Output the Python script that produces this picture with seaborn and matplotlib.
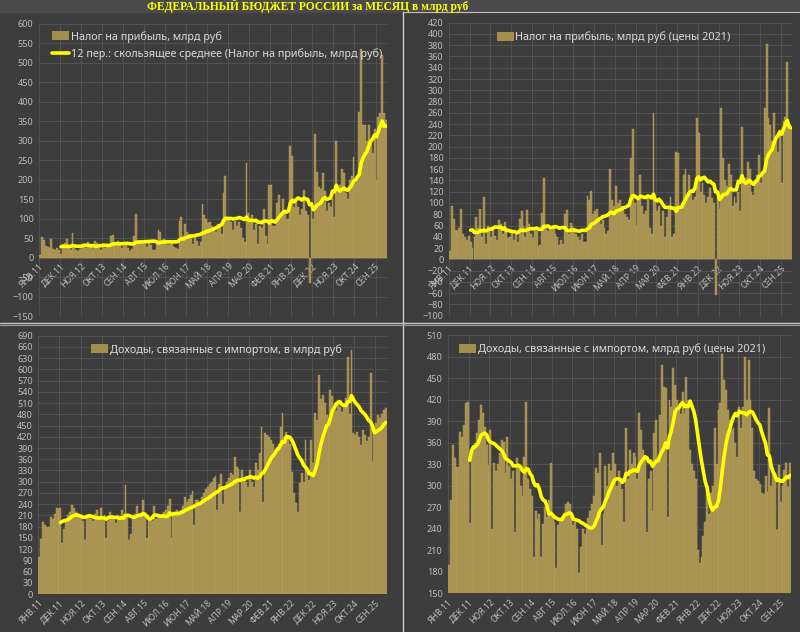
import numpy as np
import pandas as pd
import matplotlib.pyplot as plt
from matplotlib.patches import Patch, Rectangle
from matplotlib.lines import Line2D
import seaborn as sns

# ─── Data: monthly values, Jan 2011 .. Feb 2026 ──────────────────────────────
profit_tax = [
    7, 52, 45, 30, 28, 25, 48, 22, 20, 25, 20, 10,          # 2011
    30, 38, 48, 32, 20, 64, 25, 20, 18, 22, 28, 36,         # 2012
    25, 40, 35, 30, 22, 42, 38, 28, 20, 35, 25, 30,         # 2013
    28, 55, 58, 40, 30, 42, 35, 25, 30, 38, 25, 18,         # 2014
    22, 55, 112, 42, 38, 40, 35, 38, 28, 42, 32, 20,        # 2015
    20, 40, 70, 65, 45, 48, 38, 32, 35, 40, 28, 25,         # 2016
    22, 95, 103, 55, 85, 65, 60, 50, 35, 55, 42, 30,        # 2017
    40, 138, 110, 100, 88, 90, 80, 75, 65, 85, 80, 60,      # 2018
    165, 210, 105, 100, 90, 70, 95, 80, 90, 75, 50, 40,     # 2019
    242, 115, 95, 110, 70, 85, 35, 80, 75, 125, 55, 35,     # 2020
    185, 185, 80, 80, 140, 160, 110, 150, 120, 100, 100, 285,  # 2021
    260, 130, 150, 130, 110, 125, 173, 120, 110, -65, 130, 100,  # 2022
    318, 220, 180, 175, 216, 170, 120, 140, 130, 150, 105, 300,  # 2023
    180, 185, 228, 216, 165, 150, 200, 210, 258, 190, 200, 374,  # 2024
    536, 340, 340, 300, 340, 300, 267, 330, 200, 360, 370, 519,  # 2025
    370, 352,                                                # 2026
]

profit_tax_real = [
    15, 95, 72, 52, 50, 55, 90, 45, 40, 35, 42, 30,
    20, 40, 75, 55, 90, 40, 110, 28, 60, 55, 40, 55,
    42, 35, 70, 62, 45, 66, 52, 38, 40, 50, 35, 45,
    30, 72, 85, 60, 40, 88, 62, 45, 38, 50, 50, 22,
    25, 82, 145, 55, 50, 58, 55, 60, 45, 40, 25, 35,
    28, 80, 87, 45, 65, 60, 55, 45, 40, 35, 45, 30,
    30, 113, 105, 122, 80, 85, 90, 75, 62, 70, 55, 45,
    50, 160, 105, 95, 130, 100, 105, 95, 88, 80, 75, 70,
    180, 232, 100, 60, 110, 150, 95, 80, 85, 115, 55, 45,
    260, 105, 85, 95, 60, 85, 40, 75, 90, 110, 40, 45,
    190, 188, 90, 100, 150, 160, 110, 150, 120, 105, 110, 250,
    224, 120, 135, 115, 100, 110, 126, 108, 100, -63, 110, 90,
    268, 180, 140, 130, 170, 150, 95, 110, 100, 120, 85, 235,
    140, 145, 173, 160, 120, 115, 140, 150, 185, 135, 150, 268,
    383, 250, 238, 210, 260, 215, 190, 230, 135, 245, 253, 351,
    241, 235,
]

import_rev = [
    100, 148, 192, 185, 180, 178, 205, 200, 215, 230, 228, 230,
    135, 175, 200, 210, 220, 238, 230, 220, 215, 210, 205, 195,
    145, 205, 215, 200, 195, 215, 225, 205, 230, 205, 210, 150,
    195, 220, 210, 200, 190, 210, 200, 225, 215, 290, 215, 145,
    160, 200, 215, 235, 215, 210, 250, 215, 150, 210, 200, 195,
    235, 200, 205, 210, 215, 220, 225, 235, 255, 150, 220, 215,
    225, 215, 225, 235, 260, 245, 255, 265, 275, 185, 250, 250,
    240, 260, 270, 280, 285, 295, 300, 310, 315, 225, 295, 320,
    240, 280, 300, 310, 322, 318, 367, 340, 335, 220, 331, 300,
    300, 287, 331, 300, 287, 349, 330, 376, 447, 247, 429, 425,
    420, 411, 402, 385, 394, 400, 447, 483, 420, 434, 420, 400,
    327, 269, 242, 220, 296, 322, 300, 411, 340, 305, 411, 350,
    483, 465, 585, 520, 532, 510, 478, 460, 545, 530, 500, 490,
    518, 500, 487, 500, 523, 634, 480, 652, 429, 425, 433, 420,
    398, 438, 425, 410, 420, 590, 353, 430, 456, 478, 469, 480,
    491, 497,
]

import_rev_real = [
    190, 280, 357, 338, 326, 326, 375, 368, 385, 415, 417, 248,
    345, 350, 360, 373, 392, 412, 401, 382, 357, 329, 377, 240,
    331, 320, 330, 345, 364, 361, 317, 368, 327, 310, 320, 235,
    338, 326, 300, 286, 340, 417, 310, 295, 285, 201, 265, 254,
    260, 201, 247, 270, 256, 280, 331, 260, 249, 185, 245, 252,
    256, 262, 275, 277, 275, 260, 245, 250, 240, 178, 215, 240,
    233, 240, 255, 265, 275, 285, 324, 317, 345, 217, 261, 327,
    300, 330, 320, 345, 330, 300, 320, 310, 295, 249, 380, 310,
    350, 330, 345, 340, 310, 402, 378, 350, 340, 235, 310, 320,
    265, 373, 392, 340, 399, 468, 438, 436, 256, 419, 410, 464,
    440, 420, 410, 400, 430, 400, 452, 420, 350, 330, 320, 310,
    210, 192, 201, 230, 250, 300, 260, 290, 300, 380, 330, 405,
    415, 484, 447, 433, 405, 392, 378, 380, 359, 340, 410, 380,
    410, 480, 420, 475, 420, 380, 320, 310, 307, 302, 290, 288,
    313, 291, 408, 300, 322, 317, 238, 329, 277, 300, 322, 331,
    298, 331,
]

tick_labels = ["ЯНВ.11", "ДЕК.11", "НОЯ.12", "ОКТ.13", "СЕН.14", "АВГ.15",
               "ИЮЛ.16", "ИЮН.17", "МАЙ.18", "АПР.19", "МАР.20", "ФЕВ.21",
               "ЯНВ.22", "ДЕК.22", "НОЯ.23", "ОКТ.24", "СЕН.25"]

# ─── Style ───────────────────────────────────────────────────────────────────
BG = '#3d3d3d'
GRID = '#555555'
TICK = '#bdbdbd'
LEG = '#dadada'
BAR = '#a38e4e'
BAR_EDGE = '#bba55f'
MA_COLOR = '#ffff00'

sns.set_style('dark', rc={'axes.facecolor': BG, 'figure.facecolor': BG})
plt.rcParams['font.family'] = ['Noto Sans', 'DejaVu Sans']

fig = plt.figure(figsize=(8, 6.32), dpi=100, facecolor=BG)


def draw(rect, values, ylim, step, zero_axis, labels, anchor, loc):
    ax = fig.add_axes(rect)
    ax.set_facecolor(BG)
    for s in ax.spines.values():
        s.set_visible(False)
    if zero_axis:
        # category labels sit on the zero line, as in the Excel original
        ax.spines['bottom'].set_position(('data', 0))

    n = len(values)
    df = pd.DataFrame({'m': np.arange(n), 'v': values})
    df['ma'] = df['v'].rolling(12).mean()   # 12-period moving average

    sns.barplot(data=df, x='m', y='v', native_scale=True, width=1.0,
                color=BAR, saturation=1, edgecolor=BAR_EDGE, linewidth=0.3,
                errorbar=None, ax=ax, zorder=2)
    sns.lineplot(data=df, x='m', y='ma', color=MA_COLOR, linewidth=2.6,
                 ax=ax, zorder=3)

    ax.set_xlim(-0.5, n - 0.5)
    ax.set_ylim(*ylim)
    ax.set_yticks(np.arange(ylim[0], ylim[1] + 1, step))
    ax.set_xticks([k * 11 - 0.5 for k in range(len(tick_labels))])
    ax.set_xticklabels(tick_labels, rotation=45, ha='right', va='top',
                       rotation_mode='anchor', fontsize=6.2,
                       fontweight='bold', color=TICK)
    ax.tick_params(axis='y', labelsize=6.5, colors=TICK, length=0, pad=4)
    ax.tick_params(axis='x', length=0, pad=3)
    ax.set_xlabel('')
    ax.set_ylabel('')
    ax.grid(True, color=GRID, linewidth=0.6)
    ax.set_axisbelow(True)

    handles = [Patch(facecolor=BAR, edgecolor='none')]
    if len(labels) > 1:
        handles.append(Line2D([0], [0], color=MA_COLOR, lw=2.6))
    ax.legend(handles, labels, loc=loc, bbox_to_anchor=anchor, frameon=False,
              fontsize=7.8, labelcolor=LEG, handlelength=1.6, handleheight=0.9,
              handletextpad=0.15, labelspacing=0.55, borderaxespad=0)
    return ax


draw([0.04875, 0.5, 0.435, 0.4625], profit_tax, (-150, 600), 50, True,
     ["Налог на прибыль, млрд руб",
      "12 пер.: скользящее среднее (Налог на прибыль, млрд руб)"],
     (0.025, 0.99), 'upper left')
draw([0.56125, 0.5005, 0.42875, 0.4636], profit_tax_real, (-100, 420), 20, True,
     ["Налог на прибыль, млрд руб (цены 2021)"], (0.48, 0.985), 'upper center')
draw([0.048, 0.0601, 0.4356, 0.4087], import_rev, (0, 690), 30, False,
     ["Доходы, связанные с импортом, в млрд руб"], (0.51, 0.985), 'upper center')
draw([0.56, 0.0612, 0.42875, 0.4087], import_rev_real, (150, 510), 30, False,
     ["Доходы, связанные с импортом, млрд руб (цены 2021)"], (0.478, 0.985),
     'upper center')

# ─── Banner and panel separators ─────────────────────────────────────────────
fig.patches.append(Rectangle((0, 1 - 12 / 632), 1, 12 / 632,
                             transform=fig.transFigure, color='#4a4a4a', zorder=0))
fig.text(147 / 800, 1 - 6 / 632, "ФЕДЕРАЛЬНЫЙ БЮДЖЕТ РОССИИ за МЕСЯЦ в млрд руб",
         family=['Liberation Serif', 'DejaVu Serif'], fontweight='bold',
         color='#ffff00', fontsize=8.3, ha='left', va='center')
fig.add_artist(Line2D([403 / 800, 1], [1 - 12 / 632] * 2,
                      transform=fig.transFigure, color='#bdbdbd', lw=0.8))
fig.add_artist(Line2D([403 / 800] * 2, [0, 1 - 12 / 632],
                      transform=fig.transFigure, color='#cfcfcf', lw=1.0))
fig.add_artist(Line2D([0, 1], [1 - 322.5 / 632] * 2,
                      transform=fig.transFigure, color='#c8c8c8', lw=1.0))
fig.add_artist(Line2D([0, 1], [1 - 325 / 632] * 2,
                      transform=fig.transFigure, color='#9a9a9a', lw=0.8))

fig.savefig('out.png', dpi=100, facecolor=BG)
